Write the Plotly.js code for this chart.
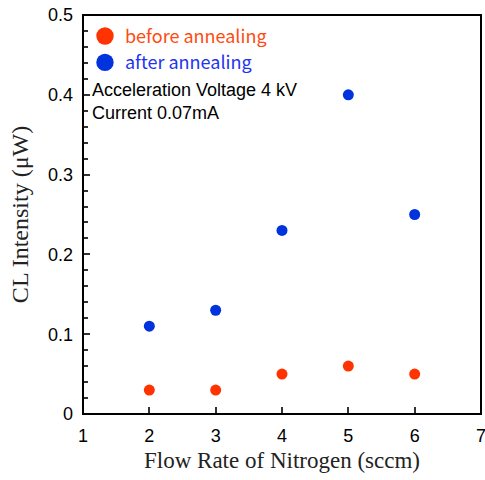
<!DOCTYPE html>
<html><head><meta charset="utf-8">
<script src="https://cdn.plot.ly/plotly-3.0.1.min.js"></script>
<style>body{margin:0;padding:0;background:#fff}#c{width:485px;height:480px}</style>
</head><body><div id="c"></div>
<script>
const flowRate = [2, 3, 4, 5, 6];
const beforeAnnealing = [0.03, 0.03, 0.05, 0.06, 0.05];
const afterAnnealing = [0.11, 0.13, 0.23, 0.40, 0.25];
const seriesNames = ['before annealing', 'after annealing'];
const xTicks = [1, 2, 3, 4, 5, 6, 7];

const traces = [
  {x: flowRate, y: beforeAnnealing, name: seriesNames[0], mode: 'markers', type: 'scatter',
   marker: {color: '#ff3300', size: 11}},
  {x: flowRate, y: afterAnnealing, name: seriesNames[1], mode: 'markers', type: 'scatter',
   marker: {color: '#0033dd', size: 11}}
];
const layout = {
  width: 485, height: 480,
  margin: {l: 83, r: 4, t: 15, b: 66},
  paper_bgcolor: '#fff', plot_bgcolor: '#fff',
  showlegend: true,
  legend: {x: 0.005, y: 0.993, xanchor: 'left', yanchor: 'top', bgcolor: 'rgba(0,0,0,0)',
    itemsizing: 'constant', tracegroupgap: 0,
    font: {family: 'Noto Sans CJK JP, DejaVu Sans', size: 18}},
  xaxis: {range: [1, 7], tickmode: 'array', tickvals: xTicks, ticks: 'inside', ticklen: 7, tickwidth: 1.5, tickcolor: '#333',
    ticklabeloverflow: 'allow', ticklabelstandoff: 9,
    showgrid: false, zeroline: false, showline: false,
    tickfont: {family: 'Liberation Sans, Arial', size: 18, color: '#000'},
    title: {text: 'Flow Rate of Nitrogen (sccm)', font: {family: 'Liberation Serif, Times New Roman', size: 23, color: '#222'}, standoff: 6}},
  yaxis: {range: [0, 0.5], tickmode: 'linear', tick0: 0, dtick: 0.1, ticks: 'inside', ticklen: 7, tickwidth: 1.5, tickcolor: '#333',
    ticklabelstandoff: 9,
    minor: {tickmode: 'linear', tick0: 0, dtick: 0.02, ticks: 'inside', ticklen: 5, tickwidth: 1.5, tickcolor: '#333'},
    showgrid: false, zeroline: false, showline: false,
    tickfont: {family: 'Liberation Sans, Arial', size: 18, color: '#000'},
    title: {text: 'CL Intensity (μW)', font: {family: 'Liberation Serif, Times New Roman', size: 24, color: '#222'}, standoff: 12}},
  shapes: [
    {type: 'rect', xref: 'paper', yref: 'paper', x0: 0, x1: 1, y0: 0, y1: 1, line: {color: '#000', width: 2}, fillcolor: 'rgba(0,0,0,0)', layer: 'above'}
  ],
  annotations: [
    {xref: 'paper', yref: 'paper', x: 0.018, y: 0.843, xanchor: 'left', yanchor: 'top', align: 'left', showarrow: false,
     text: 'Acceleration Voltage 4 kV<br>Current 0.07mA', font: {family: 'Liberation Sans, Arial', size: 18, color: '#000'}}
  ]
};
Plotly.newPlot('c', traces, layout, {displayModeBar: false}).then(function(){
  const items = document.querySelectorAll('.legendtext');
  if (items[0]) items[0].style.fill = '#ff4a10';
  if (items[1]) items[1].style.fill = '#2233ee';
  document.querySelectorAll('.legendpoints path').forEach(function(p){
    const t = p.getAttribute('transform') || '';
    p.setAttribute('transform', t + ' scale(1.45)');
  });
});
</script>
</body></html>
